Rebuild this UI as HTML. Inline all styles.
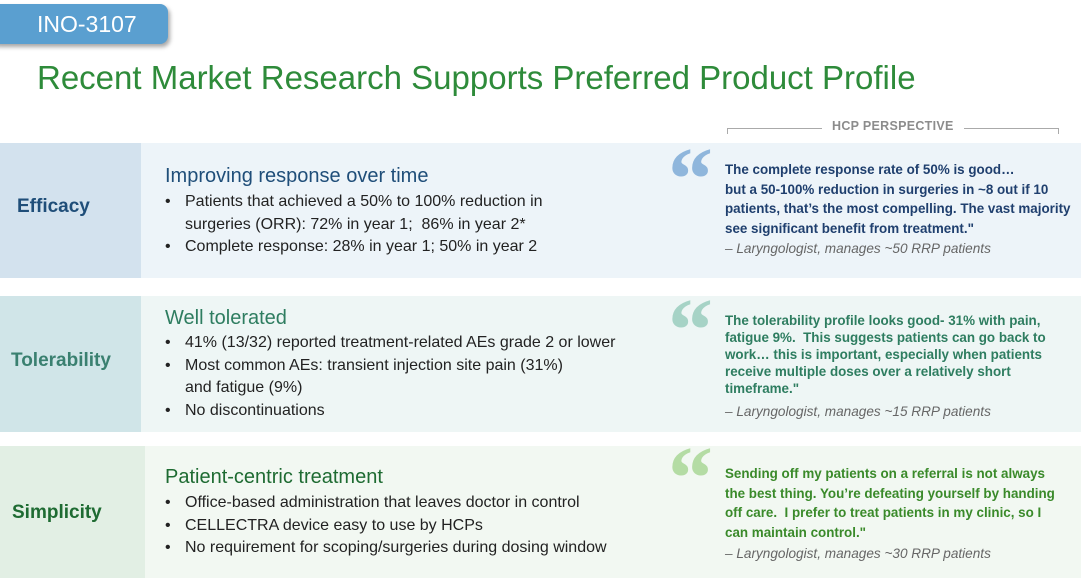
<!DOCTYPE html><html><head><style>
body{margin:0;width:1081px;height:578px;overflow:hidden;background:#fff;font-family:"Liberation Sans",sans-serif;position:relative}
.a{position:absolute;white-space:nowrap}
.tag{left:-10px;top:4px;width:178px;height:40px;background:#5a9fd0;border-radius:8px;box-shadow:2px 3px 4px rgba(0,0,0,.35);color:#fff;font-size:23px;line-height:40px;text-indent:47px}
.title{left:37px;top:59px;font-size:33px;color:#2e8b3a}
.lab{left:0;width:141px;font-weight:bold;font-size:19px}
.h{font-size:20px}
ul{margin:0;padding:0;list-style:none}
li{font-size:16px;color:#222;line-height:22.5px;padding-left:20px;position:relative}
li:before{content:"•";position:absolute;left:0}
.q{font-size:13.4px;font-weight:bold;line-height:19.5px}
.att{font-size:13.6px;font-style:italic;color:#666}
.qm{font-family:"Liberation Serif",serif;font-size:90px;font-weight:bold;line-height:1}
</style></head><body>
<div class="a tag">INO-3107</div>
<div class="a title">Recent Market Research Supports Preferred Product Profile</div>
<div class="a" style="left:727px;top:128px;width:330px;height:5px;border-top:1px solid #aaa;border-left:1px solid #aaa;border-right:1px solid #aaa"></div>
<div class="a" style="left:822px;top:119px;background:#fff;padding:0 10px;font-size:12.5px;font-weight:bold;color:#8c8c8c;letter-spacing:.3px">HCP PERSPECTIVE</div>

<div class="a" style="left:0;top:143px;width:1081px;height:135px;background:#edf4f9"></div>
<div class="a" style="left:0;top:143px;width:141px;height:135px;background:#d3e2ee"></div>
<div class="a lab" style="top:196px;left:17px;color:#1f4e79">Efficacy</div>
<div class="a h" style="left:165px;top:165px;color:#1f4e79">Improving response over time</div>
<ul class="a" style="left:165px;top:191px"><li>Patients that achieved a 50% to 100% reduction in<br>surgeries (ORR): 72% in year 1;&nbsp; 86% in year 2*</li><li>Complete response: 28% in year 1; 50% in year 2</li></ul>
<div class="a qm" style="left:668px;top:135px;color:#8fb6dc">“</div>
<div class="a q" style="left:725px;top:160px;color:#1f3f6e">The complete response rate of 50% is good…<br>but a 50-100% reduction in surgeries in ~8 out if 10<br>patients, that’s the most compelling. The vast majority<br>see significant benefit from treatment."</div>
<div class="a att" style="left:725px;top:241px">– Laryngologist, manages ~50 RRP patients</div>

<div class="a" style="left:0;top:296px;width:1081px;height:136px;background:#eef6f5"></div>
<div class="a" style="left:0;top:296px;width:141px;height:136px;background:#d0e5e8"></div>
<div class="a lab" style="top:350px;left:11px;color:#3a8070">Tolerability</div>
<div class="a h" style="left:165px;top:307px;color:#2e7d60">Well tolerated</div>
<ul class="a" style="left:165px;top:332px"><li>41% (13/32) reported treatment-related AEs grade 2 or lower</li><li>Most common AEs: transient injection site pain (31%)<br>and fatigue (9%)</li><li>No discontinuations</li></ul>
<div class="a qm" style="left:668px;top:286px;color:#a6d3c6">“</div>
<div class="a q" style="left:725px;top:312px;color:#2e7d60;line-height:17px">The tolerability profile looks good- 31% with pain,<br>fatigue 9%.&nbsp; This suggests patients can go back to<br>work… this is important, especially when patients<br>receive multiple doses over a relatively short<br>timeframe."</div>
<div class="a att" style="left:725px;top:404px">– Laryngologist, manages ~15 RRP patients</div>

<div class="a" style="left:0;top:446px;width:1081px;height:132px;background:#f2f8f2"></div>
<div class="a" style="left:0;top:446px;width:145px;height:132px;background:#e2efe4"></div>
<div class="a lab" style="top:502px;left:12px;color:#1e6b32">Simplicity</div>
<div class="a h" style="left:165px;top:466px;color:#1e6b32">Patient-centric treatment</div>
<ul class="a" style="left:165px;top:492px"><li>Office-based administration that leaves doctor in control</li><li>CELLECTRA device easy to use by HCPs</li><li>No requirement for scoping/surgeries during dosing window</li></ul>
<div class="a qm" style="left:668px;top:434px;color:#b4dca4">“</div>
<div class="a q" style="left:725px;top:464px;color:#3a8a2a">Sending off my patients on a referral is not always<br>the best thing. You’re defeating yourself by handing<br>off care.&nbsp; I prefer to treat patients in my clinic, so I<br>can maintain control."</div>
<div class="a att" style="left:725px;top:546px">– Laryngologist, manages ~30 RRP patients</div>
</body></html>
